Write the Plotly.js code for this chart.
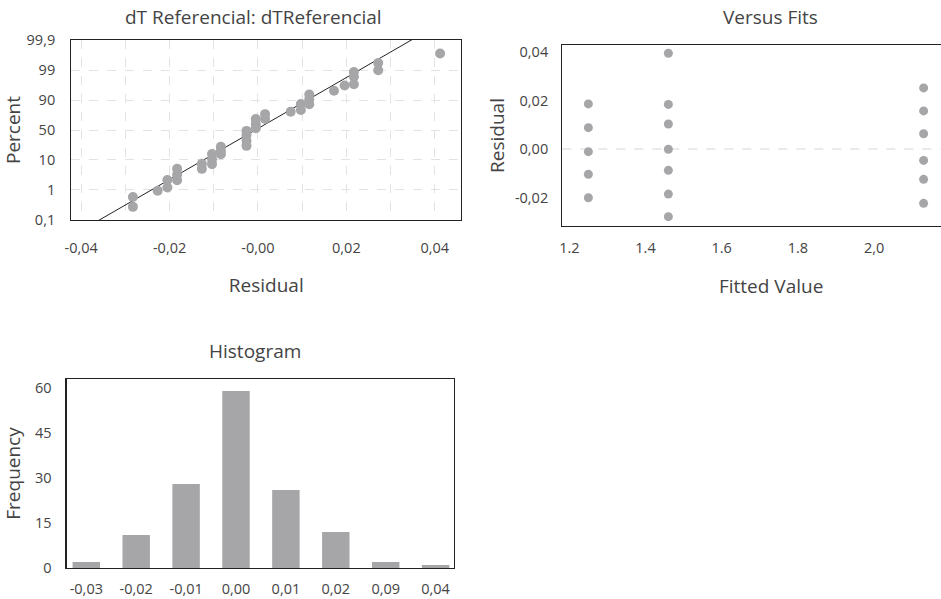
<!DOCTYPE html>
<html>
<head>
<meta charset="utf-8">
<script src="https://cdn.plot.ly/plotly-3.0.1.min.js"></script>
<style>
html,body{margin:0;padding:0;overflow:hidden;background:#fff;}
#chart{width:980px;height:599px;}
</style>
</head>
<body>
<div id="chart"></div>
<script>
// ---- Normal probability plot ----
const normResidual = [-0.0283,-0.0283,-0.0227,-0.0205,-0.0205,-0.0183,-0.0183,-0.0183,-0.0127,-0.0127,-0.0104,-0.0104,-0.0104,-0.0084,-0.0084,-0.0084,-0.0026,-0.0026,-0.0026,-0.0026,-0.0005,-0.0005,-0.0005,0.0016,0.0016,0.0074,0.0097,0.0097,0.0116,0.0116,0.0116,0.0172,0.0196,0.0217,0.0217,0.0217,0.0272,0.0272,0.0412];
const normScore = [0.76,0.43,0.97,1.33,1.08,1.70,1.50,1.32,1.87,1.70,2.20,2.02,1.86,2.44,2.30,2.19,2.97,2.83,2.64,2.47,3.37,3.20,3.06,3.53,3.37,3.61,3.87,3.67,4.19,4.03,3.86,4.31,4.49,4.94,4.78,4.53,5.24,5.00,5.56];
const fitLineX = [-0.04, 0.04];
const fitLineY = [-0.36, 6.46];
const percentTickPos = [0,1,2,3,4,5,6];
const percentTickText = ['0,1','1','10','50','90','99','99,9'];
const residTickVals = [-0.04,-0.03,-0.02,-0.01,0,0.01,0.02,0.03,0.04];
const residTickText = ['-0,04','','-0,02','','-0,00','','0,02','','0,04'];

// ---- Versus fits ----
const fittedValues = [1.25,1.25,1.25,1.25,1.25, 1.46,1.46,1.46,1.46,1.46,1.46,1.46, 2.13,2.13,2.13,2.13,2.13,2.13];
const fitResiduals = [0.0186,0.0088,-0.0011,-0.0104,-0.0201, 0.0395,0.0184,0.0103,-0.0001,-0.0088,-0.0186,-0.0279, 0.0252,0.0157,0.0063,-0.0047,-0.0125,-0.0224];
const fitXTickVals = [1.2,1.4,1.6,1.8,2.0];
const fitXTickText = ['1.2','1.4','1.6','1.8','2,0'];
const fitYTickVals = [-0.02,0,0.02,0.04];
const fitYTickText = ['-0,02','0,00','0,02','0,04'];

// ---- Histogram ----
const histBins = ['-0,03','-0,02','-0,01','0,00','0,01','0,02','0,09','0,04'];
const histCounts = [2,11,28,59,26,12,2,1];
const freqTicks = [0,15,30,45,60];

const GRAY = '#a6a6a9';
const TXT = '#444444';
const FONT = '"Open Sans", Roboto, sans-serif';

const traces = [
  {type:'scatter', mode:'lines', x:fitLineX, y:fitLineY, xaxis:'x', yaxis:'y',
   line:{color:'#222', width:1}, hoverinfo:'skip', showlegend:false},
  {type:'scatter', mode:'markers', x:normResidual, y:normScore, xaxis:'x', yaxis:'y',
   marker:{color:GRAY, size:10}, showlegend:false},
  {type:'scatter', mode:'markers', x:fittedValues, y:fitResiduals, xaxis:'x2', yaxis:'y2',
   marker:{color:GRAY, size:9}, showlegend:false},
  {type:'bar', x:histBins, y:histCounts, xaxis:'x3', yaxis:'y3',
   marker:{color:GRAY, line:{width:0}}, showlegend:false}
];

const tickFont = {family:FONT, size:14.5, color:TXT};
const titleFont = {family:FONT, size:19, color:TXT};
const axisTitleFont = {family:FONT, size:19, color:TXT};

const layout = {
  width:980, height:599,
  margin:{l:0,r:0,t:0,b:0},
  paper_bgcolor:'#fff', plot_bgcolor:'#fff',
  font:{family:FONT, color:TXT},
  showlegend:false,
  bargap:0.45,
  xaxis:{domain:[0.07276,0.47071], anchor:'y', range:[-0.04224,0.046],
    tickmode:'array', tickvals:residTickVals, ticktext:residTickText,
    showgrid:true, gridcolor:'#e3e3e3', griddash:'dash', gridwidth:1,
    zeroline:false, showline:true, mirror:true, linecolor:'#222', linewidth:1.2,
    ticks:'outside', ticklen:14, tickcolor:'rgba(0,0,0,0)', tickfont:tickFont,
    title:{text:'Residual', font:axisTitleFont, standoff:23}},
  yaxis:{domain:[0.63272,0.93322], anchor:'x', range:[-0.01,6.01],
    tickmode:'array', tickvals:percentTickPos, ticktext:percentTickText,
    showgrid:true, gridcolor:'#e3e3e3', griddash:'dash', gridwidth:1,
    zeroline:false, showline:true, mirror:true, linecolor:'#222', linewidth:1.2,
    ticks:'outside', ticklen:12, tickcolor:'rgba(0,0,0,0)', tickfont:tickFont,
    title:{text:'Percent', font:axisTitleFont, standoff:1}},
  xaxis2:{domain:[0.57378,1.0], anchor:'y2', range:[1.1816,2.278],
    tickmode:'array', tickvals:fitXTickVals, ticktext:fitXTickText,
    showgrid:false, zeroline:false, showline:true, mirror:true, linecolor:'#222', linewidth:1.2,
    ticks:'outside', ticklen:8, tickcolor:'rgba(0,0,0,0)', tickfont:tickFont,
    title:{text:'Fitted Value', font:axisTitleFont, standoff:24}},
  yaxis2:{domain:[0.62270,0.92487], anchor:'x2', range:[-0.03175,0.04289],
    tickmode:'array', tickvals:fitYTickVals, ticktext:fitYTickText,
    showgrid:false, zeroline:false, showline:true, mirror:false, linecolor:'#222', linewidth:1.2,
    ticks:'outside', ticklen:10, tickcolor:'rgba(0,0,0,0)', tickfont:tickFont,
    title:{text:'Residual', font:axisTitleFont, standoff:5}},
  xaxis3:{domain:[0.06806,0.46327], anchor:'y3', type:'category', range:[-0.393,7.369],
    showgrid:false, zeroline:false, showline:true, mirror:true, linecolor:'#222', linewidth:1.2,
    ticks:'outside', ticklen:7, tickcolor:'rgba(0,0,0,0)', tickfont:tickFont},
  yaxis3:{domain:[0.05175,0.36728], anchor:'x3', range:[0,63],
    tickmode:'array', tickvals:freqTicks,
    showgrid:false, zeroline:false, showline:true, mirror:true, linecolor:'#222', linewidth:1.2,
    ticks:'outside', ticklen:11, tickcolor:'rgba(0,0,0,0)', tickfont:tickFont,
    title:{text:'Frequency', font:axisTitleFont, standoff:12}},
  shapes:[
    {type:'line', xref:'x2 domain', yref:'y2', x0:0, x1:1, y0:0, y1:0,
     line:{color:'#d6d6d6', width:1, dash:'dash'}, layer:'below'}
  ],
  annotations:[
    {text:'dT Referencial: dTReferencial', xref:'paper', yref:'paper', x:0.2582, y:0.9721,
     xanchor:'center', yanchor:'middle', showarrow:false, font:titleFont},
    {text:'Versus Fits', xref:'paper', yref:'paper', x:0.7867, y:0.9716,
     xanchor:'center', yanchor:'middle', showarrow:false, font:titleFont},
    {text:'Histogram', xref:'paper', yref:'paper', x:0.2602, y:0.4145,
     xanchor:'center', yanchor:'middle', showarrow:false, font:titleFont}
  ]
};

Plotly.newPlot('chart', traces, layout, {displayModeBar:false, staticPlot:true});
</script>
</body>
</html>
